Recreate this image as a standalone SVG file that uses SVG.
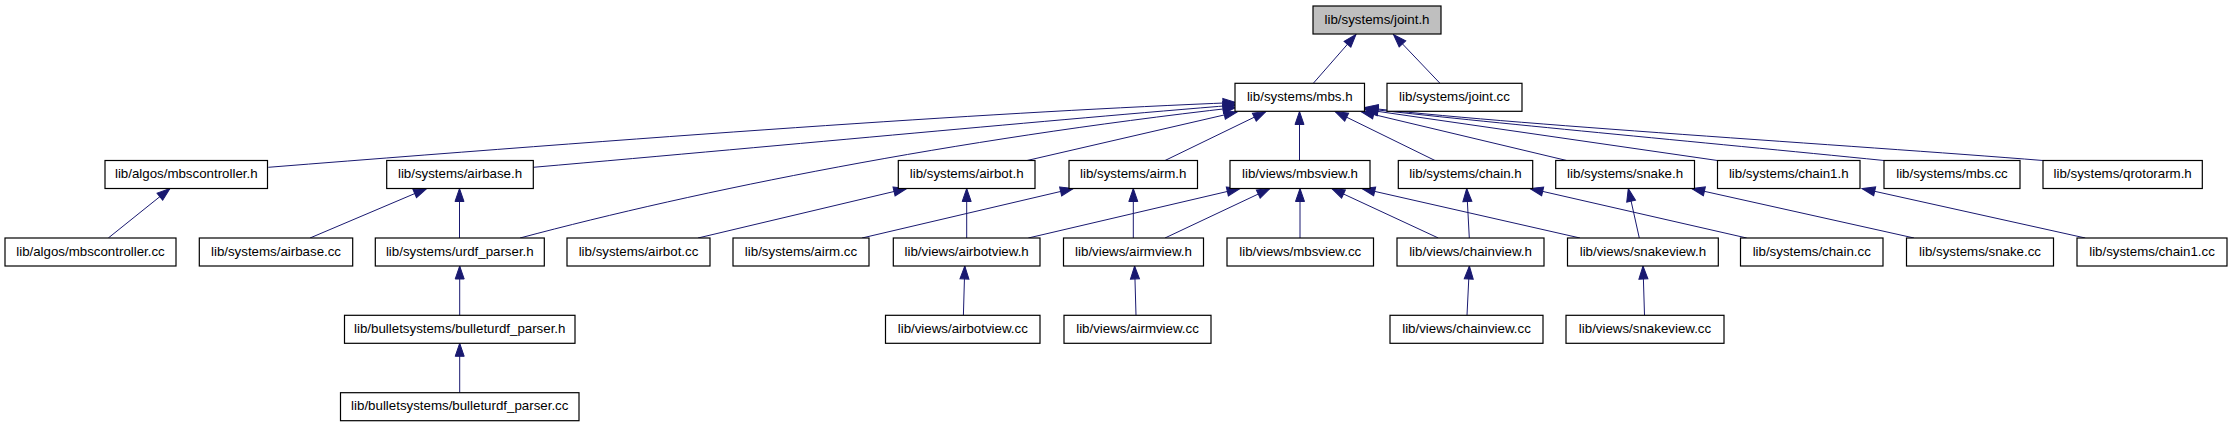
<svg xmlns="http://www.w3.org/2000/svg" width="2232" height="427" viewBox="0 0 2232 427">
<style>
.n rect{fill:#ffffff;stroke:#000000;stroke-width:1.2}
.n.main rect{fill:#bfbfbf}
.n text{font-family:"Liberation Sans",Arial,Helvetica,sans-serif;font-size:13.3px;fill:#000000;text-anchor:middle}
#edges path{fill:none;stroke:#191970;stroke-width:1;marker-end:url(#arr)}
</style>
<defs>
<marker id="arr" markerUnits="userSpaceOnUse" markerWidth="14" markerHeight="10" refX="13" refY="4.5" orient="auto" overflow="visible">
<path d="M0,0 L13,4.5 L0,9 Z" fill="#191970" stroke="#191970" stroke-width="1"/>
</marker>
</defs>
<rect x="0" y="0" width="2232" height="427" fill="#ffffff"/>
<g id="edges">
<path d="M1313.3,83.3 L1356,34.5"/>
<path d="M1440,83.3 L1393.5,34.5"/>
<path d="M268.3,167.3 C700,133 1000,112 1236,102.5"/>
<path d="M533.3,167.3 C800,144 1050,120 1236,105"/>
<path d="M520,238 C700,190 950,140 1236,107.5"/>
<path d="M1027,160.5 L1237,112"/>
<path d="M1165,160.5 L1266,111.5"/>
<path d="M1299.5,160.5 L1299.5,111.5"/>
<path d="M1435,160.5 L1335,111.5"/>
<path d="M1566.7,160.5 L1361,111.5"/>
<path d="M1717.5,160.5 L1365,109.5"/>
<path d="M1884,160.5 C1700,142 1480,122 1365,108.5"/>
<path d="M2043,160.5 C1850,145 1500,124 1365,107.5"/>
<path d="M108.3,238 L170,188.5"/>
<path d="M310,238 L426.7,188.5"/>
<path d="M459.5,238 L459.5,188.5"/>
<path d="M698,238 L906.7,188.5"/>
<path d="M862,238 L1073.3,188.5"/>
<path d="M966.7,238 L966.7,188.5"/>
<path d="M1028.3,238 L1240,188.5"/>
<path d="M1133.3,238 L1133.3,188.5"/>
<path d="M1165,238 L1270,188.5"/>
<path d="M1300,238 L1300,188.5"/>
<path d="M1438.3,238 L1331.7,188.5"/>
<path d="M1580,238 L1362,188.5"/>
<path d="M1469.3,238 L1466.7,188.5"/>
<path d="M1746.7,238 L1530,188.5"/>
<path d="M1639.3,238 L1628.3,188.5"/>
<path d="M1914,238 L1691.7,188.5"/>
<path d="M2085.3,238 L1862,188.5"/>
<path d="M459.7,315.3 L459.7,266"/>
<path d="M963.4,315.3 L964.8,266"/>
<path d="M1136,315.3 L1134.6,266"/>
<path d="M1467,315.3 L1469.4,266"/>
<path d="M1644.5,315.3 L1643,266"/>
<path d="M459.7,392.7 L459.7,343.3"/>
</g>
<g id="n_joint_h" class="n main"><rect x="1313" y="6" width="128" height="28"/><text x="1377" y="23.5">lib/systems/joint.h</text></g>
<g id="n_mbs_h" class="n"><rect x="1235" y="83.3" width="129.5" height="28"/><text x="1299.75" y="100.8">lib/systems/mbs.h</text></g>
<g id="n_joint_cc" class="n"><rect x="1387" y="83.3" width="135" height="28"/><text x="1454.5" y="100.8">lib/systems/joint.cc</text></g>
<g id="n_mbscontroller_h" class="n"><rect x="105" y="160.5" width="162.5" height="28"/><text x="186.25" y="178">lib/algos/mbscontroller.h</text></g>
<g id="n_airbase_h" class="n"><rect x="386.7" y="160.5" width="146.6" height="28"/><text x="460" y="178">lib/systems/airbase.h</text></g>
<g id="n_airbot_h" class="n"><rect x="898.3" y="160.5" width="136.7" height="28"/><text x="966.65" y="178">lib/systems/airbot.h</text></g>
<g id="n_airm_h" class="n"><rect x="1069" y="160.5" width="128.5" height="28"/><text x="1133.25" y="178">lib/systems/airm.h</text></g>
<g id="n_mbsview_h" class="n"><rect x="1230" y="160.5" width="140" height="28"/><text x="1300" y="178">lib/views/mbsview.h</text></g>
<g id="n_chain_h" class="n"><rect x="1398.3" y="160.5" width="134.4" height="28"/><text x="1465.5" y="178">lib/systems/chain.h</text></g>
<g id="n_snake_h" class="n"><rect x="1555.7" y="160.5" width="138.8" height="28"/><text x="1625.1" y="178">lib/systems/snake.h</text></g>
<g id="n_chain1_h" class="n"><rect x="1717.5" y="160.5" width="142.5" height="28"/><text x="1788.75" y="178">lib/systems/chain1.h</text></g>
<g id="n_mbs_cc" class="n"><rect x="1884" y="160.5" width="136" height="28"/><text x="1952" y="178">lib/systems/mbs.cc</text></g>
<g id="n_qrotorarm_h" class="n"><rect x="2043" y="160.5" width="159.3" height="28"/><text x="2122.65" y="178">lib/systems/qrotorarm.h</text></g>
<g id="n_mbscontroller_cc" class="n"><rect x="5" y="238" width="171" height="28"/><text x="90.5" y="255.5">lib/algos/mbscontroller.cc</text></g>
<g id="n_airbase_cc" class="n"><rect x="199.3" y="238" width="153.4" height="28"/><text x="276" y="255.5">lib/systems/airbase.cc</text></g>
<g id="n_urdf_parser_h" class="n"><rect x="375.3" y="238" width="169" height="28"/><text x="459.8" y="255.5">lib/systems/urdf_parser.h</text></g>
<g id="n_airbot_cc" class="n"><rect x="567" y="238" width="143" height="28"/><text x="638.5" y="255.5">lib/systems/airbot.cc</text></g>
<g id="n_airm_cc" class="n"><rect x="733" y="238" width="136" height="28"/><text x="801" y="255.5">lib/systems/airm.cc</text></g>
<g id="n_airbotview_h" class="n"><rect x="893.3" y="238" width="146.7" height="28"/><text x="966.65" y="255.5">lib/views/airbotview.h</text></g>
<g id="n_airmview_h" class="n"><rect x="1063.5" y="238" width="140" height="28"/><text x="1133.5" y="255.5">lib/views/airmview.h</text></g>
<g id="n_mbsview_cc" class="n"><rect x="1227" y="238" width="146.5" height="28"/><text x="1300.25" y="255.5">lib/views/mbsview.cc</text></g>
<g id="n_chainview_h" class="n"><rect x="1397" y="238" width="147" height="28"/><text x="1470.5" y="255.5">lib/views/chainview.h</text></g>
<g id="n_snakeview_h" class="n"><rect x="1567.5" y="238" width="150.8" height="28"/><text x="1642.9" y="255.5">lib/views/snakeview.h</text></g>
<g id="n_chain_cc" class="n"><rect x="1740.5" y="238" width="142.5" height="28"/><text x="1811.75" y="255.5">lib/systems/chain.cc</text></g>
<g id="n_snake_cc" class="n"><rect x="1906.5" y="238" width="147" height="28"/><text x="1980" y="255.5">lib/systems/snake.cc</text></g>
<g id="n_chain1_cc" class="n"><rect x="2077" y="238" width="150" height="28"/><text x="2152" y="255.5">lib/systems/chain1.cc</text></g>
<g id="n_bulleturdf_parser_h" class="n"><rect x="344.5" y="315.3" width="230.5" height="28"/><text x="459.75" y="332.8">lib/bulletsystems/bulleturdf_parser.h</text></g>
<g id="n_airbotview_cc" class="n"><rect x="885.5" y="315.3" width="154.5" height="28"/><text x="962.75" y="332.8">lib/views/airbotview.cc</text></g>
<g id="n_airmview_cc" class="n"><rect x="1064" y="315.3" width="147" height="28"/><text x="1137.5" y="332.8">lib/views/airmview.cc</text></g>
<g id="n_chainview_cc" class="n"><rect x="1390" y="315.3" width="153" height="28"/><text x="1466.5" y="332.8">lib/views/chainview.cc</text></g>
<g id="n_snakeview_cc" class="n"><rect x="1566" y="315.3" width="158" height="28"/><text x="1645" y="332.8">lib/views/snakeview.cc</text></g>
<g id="n_bulleturdf_parser_cc" class="n"><rect x="340.5" y="392.7" width="238.5" height="28"/><text x="459.75" y="410.2">lib/bulletsystems/bulleturdf_parser.cc</text></g>
</svg>
